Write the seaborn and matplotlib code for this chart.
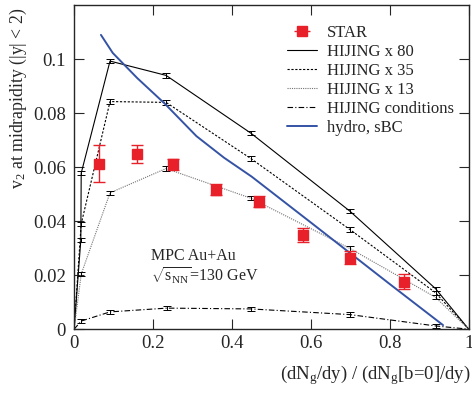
import numpy as np
import pandas as pd
import matplotlib
matplotlib.use("Agg")
import matplotlib.pyplot as plt
import seaborn as sns

# STAR data
star_x = [0.062, 0.160, 0.250, 0.359, 0.468, 0.580, 0.699, 0.836]
star_y = [0.0613, 0.0648, 0.0610, 0.0517, 0.0472, 0.0348, 0.0265, 0.0175]
star_err = [0.0068, 0.0033, 0.0022, 0.0020, 0.0020, 0.0025, 0.0025, 0.0028]

# HIJING curves
h80_x = [0.0, 0.017, 0.018, 0.091, 0.233, 0.448, 0.699, 0.916, 1.0]
h80_y = [0.0, 0.033, 0.0578, 0.0993, 0.0940, 0.0726, 0.0437, 0.0150, 0.0]
h35_x = [0.0, 0.018, 0.091, 0.233, 0.448, 0.699, 0.916, 1.0]
h35_y = [0.0, 0.039, 0.0843, 0.0840, 0.0632, 0.0369, 0.0135, 0.0]
h13_x = [0.0, 0.018, 0.091, 0.233, 0.448, 0.699, 0.916, 1.0]
h13_y = [0.0, 0.0204, 0.0505, 0.0595, 0.0485, 0.0299, 0.0118, 0.0]
cond_x = [0.0, 0.018, 0.091, 0.235, 0.448, 0.699, 0.916, 1.0]
cond_y = [0.0, 0.0030, 0.0064, 0.0078, 0.0075, 0.0054, 0.0012, 0.0]

# hydro sBC
hydro_x = [0.068, 0.098, 0.16, 0.23, 0.31, 0.38, 0.45, 0.60, 0.80, 0.935]
hydro_y = [0.109, 0.1023, 0.093, 0.0835, 0.0715, 0.0635, 0.0565, 0.0395, 0.0167, 0.0015]

sns.set_style("ticks")
plt.rcParams["font.family"] = ["Liberation Serif", "DejaVu Serif"]
plt.rcParams["mathtext.fontset"] = "custom"
plt.rcParams["mathtext.rm"] = "Liberation Serif"
plt.rcParams["mathtext.it"] = "Liberation Serif:italic"

fig = plt.figure(figsize=(4.72, 3.99), dpi=100)
ax = fig.add_axes([0.157, 0.175, 0.836, 0.812])

herr = 0.0008
curves = [
    (h80_x, h80_y, "-", "black", "HIJING x 80"),
    (h35_x, h35_y, (0, (2, 1.5)), "black", "HIJING x 35"),
    (h13_x, h13_y, (0, (1, 1)), "0.45", "HIJING x 13"),
    (cond_x, cond_y, (0, (5, 2, 1, 2)), "black", "HIJING conditions"),
]
for xs, ys, ls, col, lab in curves:
    sns.lineplot(x=xs, y=ys, ax=ax, color=col, lw=0.8, linestyle=ls,
                 label=lab, estimator=None, sort=False)
    ax.errorbar(xs[1:-1], ys[1:-1], yerr=herr, fmt="none", ecolor="black",
                elinewidth=0.7, capsize=3, capthick=0.7)

sns.lineplot(x=hydro_x, y=hydro_y, ax=ax, color="#3553a5", lw=1.4,
             label="hydro, sBC", estimator=None, sort=False)

ax.errorbar(star_x, star_y, yerr=star_err, fmt="s", color="#e8202a",
            ms=7, elinewidth=1.0, capsize=4, capthick=1.0)
star_proxy = ax.errorbar([], [], xerr=[], fmt="s", color="#e8202a",
                         ms=7, elinewidth=1.0, capsize=4, capthick=1.0, label="STAR")

handles, labels = ax.get_legend_handles_labels()
order = [labels.index(n) for n in ["STAR", "HIJING x 80", "HIJING x 35",
                                   "HIJING x 13", "HIJING conditions", "hydro, sBC"]]
ax.legend([handles[i] for i in order], [labels[i] for i in order],
          loc="upper left", bbox_to_anchor=(0.51, 0.975), frameon=False,
          fontsize=12, handlelength=1.8, labelspacing=0.18, borderpad=0.2,
          handletextpad=0.6)

ax.set_xlim(0, 1)
ax.set_ylim(0, 0.12)
ax.set_xticks([0, 0.2, 0.4, 0.6, 0.8, 1])
ax.set_xticklabels(["0", "0.2", "0.4", "0.6", "0.8", "1"])
ax.set_yticks([0, 0.02, 0.04, 0.06, 0.08, 0.1])
ax.set_yticklabels(["0", "0.02", "0.04", "0.06", "0.08", "0.1"])
ax.tick_params(direction="in", top=True, right=True, length=7, width=0.8,
               labelsize=13.5)
ax.tick_params(axis="x", pad=4)
ax.tick_params(axis="y", pad=6)
for s in ax.spines.values():
    s.set_linewidth(1.0)
    s.set_visible(True)

ax.text(0.195, 0.212, "MPC Au+Au", transform=ax.transAxes, fontsize=11.5)
ax.text(0.195, 0.147, r"$\sqrt{\mathrm{s}_{\mathrm{NN}}}$=130 GeV",
        transform=ax.transAxes, fontsize=11.5)

fig.text(0.997, 0.03, r"(dN$_{\mathrm{g}}$/dy) / (dN$_{\mathrm{g}}$[b=0]/dy)",
         ha="right", va="bottom", fontsize=13.5)
fig.text(0.04, 0.98, r"v$_2$ at midrapidity (|y| < 2)", rotation=90,
         ha="center", va="top", fontsize=12.8)

fig.savefig("out.png", dpi=100)
